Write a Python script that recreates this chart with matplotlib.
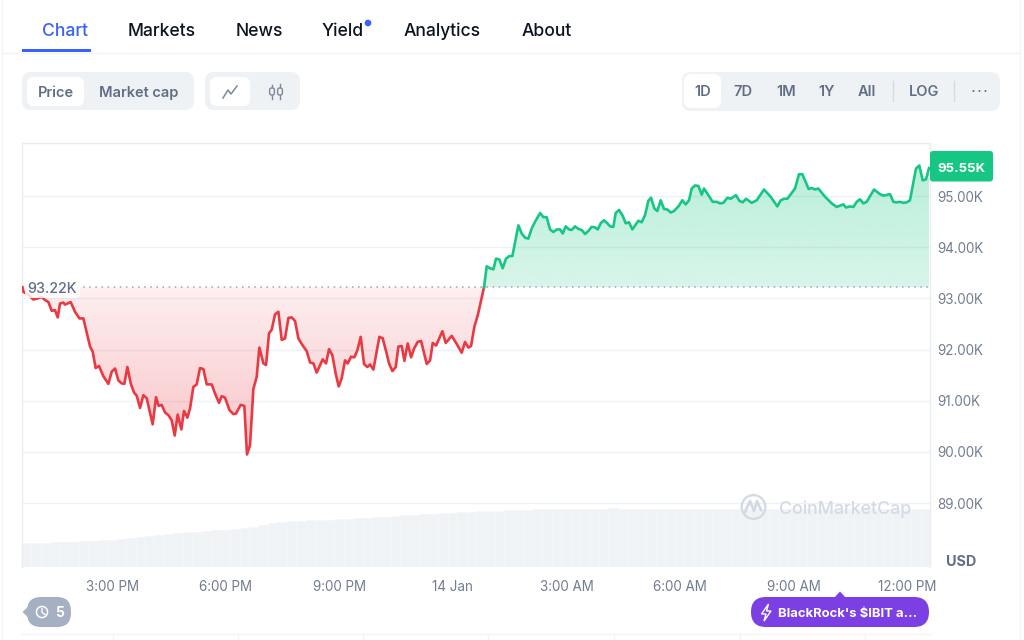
import numpy as np
import matplotlib
matplotlib.use("Agg")
import matplotlib.pyplot as plt
from matplotlib.patches import FancyBboxPatch, Circle, Polygon, Wedge, Rectangle

plt.rcParams['font.family'] = ['Inter', 'DejaVu Sans']

# Minutes since 12:00 PM on 13 Jan
red_t = [38, 39.6, 47.5, 55.4, 61.7, 68.6, 73.9, 79.2, 84.4, 89.7, 94, 97.6, 102.9, 105.6, 114.5, 121.4, 128.3, 134.6,
         140.9, 145.2, 149.4, 154.1, 159.4, 166.3, 174.2, 179.5, 184.8, 190, 195.3, 199.5, 204.3, 209.6, 214.9, 219.1,
         224.4, 229.6, 234.9, 244.4, 249.7, 253.9, 258.7, 264, 269.2, 274.5, 279.3, 284, 289.8, 294, 299.3, 303.6,
         308.8, 314.1, 319.4, 324.7, 330, 337.9, 343.2, 349.5, 353.7, 359, 365.9, 372.2, 376.4, 383.8, 389.6, 393.8,
         398.6, 403.9, 409.2, 413.4, 419.8, 424, 428.7, 433, 438.2, 443.5, 448.8, 454.1, 459.4, 464.6, 469.9, 475.2,
         480.5, 488.4, 493.7, 499, 504.2, 513.7, 519, 523.8, 529, 534.3, 539.1, 543.8, 549.1, 553.3, 558.6, 563.9,
         568.7, 573.9, 579.2, 584.5, 588.7, 594, 603.5, 608.8, 615.1, 618.8, 624.1, 629.4, 633.6, 638.9, 643.1, 648.4,
         653.7, 658.4, 664.2, 669.5, 678.5, 683.8, 688, 693.3, 703.3, 708.6, 718.1, 726, 733.9, 739.2, 744.5, 748.7,
         754, 759.3, 769.3]
red_v = [93.22, 93.13, 93.07, 92.98, 93.0, 93.03, 92.97, 92.93, 92.76, 92.77, 92.63, 92.90, 92.92, 92.88, 92.93, 92.74,
         92.61, 92.61, 92.28, 92.06, 91.96, 91.64, 91.68, 91.48, 91.33, 91.57, 91.63, 91.40, 91.34, 91.33, 91.66, 91.34,
         91.16, 91.10, 90.86, 91.11, 91.05, 90.54, 91.07, 90.90, 90.92, 90.77, 90.72, 90.62, 90.32, 90.73, 90.44, 90.80,
         90.67, 90.85, 91.27, 91.32, 91.64, 91.62, 91.32, 91.32, 91.14, 90.96, 91.09, 91.06, 90.82, 90.74, 90.75, 90.92,
         90.90, 89.95, 90.13, 91.23, 91.47, 92.04, 91.73, 91.70, 92.32, 92.39, 92.69, 92.74, 92.19, 92.22, 92.62, 92.63,
         92.56, 92.22, 92.11, 91.97, 91.75, 91.73, 91.55, 91.81, 91.73, 92.01, 91.89, 91.53, 91.28, 91.44, 91.79, 91.73,
         91.86, 91.85, 91.99, 92.25, 91.72, 91.66, 91.71, 91.61, 92.25, 92.22, 91.92, 91.73, 91.58, 91.66, 92.06, 92.07,
         91.78, 92.12, 91.85, 92.02, 92.15, 92.17, 91.72, 91.79, 92.13, 92.08, 92.36, 92.13, 92.27, 92.11, 91.94, 92.15,
         92.04, 92.07, 92.45, 92.67, 93.22]
green_t = [769.3, 773.5, 778.8, 784.1, 788.3, 793.6, 798.8, 804.1, 809.4, 814.2, 823.7, 829, 834.2, 839.5, 844.8, 850.1,
           858, 863.3, 868.5, 873.8, 879.1, 884.4, 889.7, 893.9, 898.6, 903.9, 908.1, 913.4, 918.7, 924, 929.3, 934.5,
           939.8, 945.1, 949.3, 954.6, 959.4, 964.6, 968.9, 974.1, 977.8, 983.1, 988.4, 993.7, 999, 1004.2, 1013.7, 1019,
           1024.3, 1029.6, 1033.8, 1039.1, 1043.8, 1049.1, 1054.4, 1059.7, 1065, 1070.2, 1077.1, 1083.4, 1088.7, 1094,
           1098.2, 1103.5, 1108.8, 1114.1, 1117.7, 1124.6, 1131.5, 1137.8, 1143.1, 1148.4, 1154.7, 1160, 1168.4, 1173.7,
           1179, 1184.3, 1193.2, 1201.2, 1212.8, 1223.3, 1233.9, 1239.2, 1244.5, 1249.7, 1261.9, 1268.2, 1273.5, 1283.5,
           1288.3, 1293.6, 1298.8, 1309.4, 1320, 1327.9, 1338.4, 1342.7, 1349, 1354.3, 1359.6, 1364.8, 1370.1, 1375.4,
           1387, 1396.5, 1401.8, 1412.4, 1417.6, 1422.9, 1428.2, 1433.5, 1438.8, 1444, 1453.5, 1458.8, 1464.1, 1469.4,
           1474.1]
green_v = [93.22, 93.63, 93.59, 93.57, 93.78, 93.76, 93.59, 93.78, 93.83, 93.83, 94.43, 94.27, 94.19, 94.17, 94.37, 94.50,
           94.67, 94.59, 94.59, 94.35, 94.30, 94.35, 94.35, 94.27, 94.41, 94.35, 94.34, 94.41, 94.36, 94.34, 94.26, 94.32,
           94.40, 94.39, 94.35, 94.48, 94.53, 94.47, 94.41, 94.40, 94.67, 94.73, 94.63, 94.47, 94.49, 94.35, 94.52, 94.49,
           94.63, 94.91, 94.97, 94.76, 94.71, 94.92, 94.75, 94.74, 94.68, 94.71, 94.80, 94.92, 94.84, 94.92,
           95.15, 95.21, 95.20, 95.03, 95.15, 95.02, 94.89, 94.89, 94.86, 94.87, 94.97, 94.95, 95.02, 94.91,
           94.88, 94.95, 94.87, 94.92, 95.13, 94.99, 94.80, 94.92, 94.95, 94.95, 95.15, 95.43, 95.43, 95.14,
           95.16, 95.13, 95.15, 94.99, 94.86, 94.79, 94.84, 94.78, 94.80, 94.79, 94.89, 94.94, 94.86, 94.89,
           95.13, 95.04, 95.01, 95.04, 94.89, 94.88, 94.89, 94.87, 94.88, 94.92, 95.54, 95.60, 95.31, 95.33,
           95.55]
volume = [24, 24.5, 24.5, 25, 25, 25.5, 26, 26.5, 27, 27.5, 28, 29, 30, 31, 32, 33.5, 34, 35, 35.5, 36, 37, 37.5, 38.5, 39,
          40, 42, 44.5, 45.5, 46, 46.5, 47, 47, 47.5, 48, 48.5, 49, 49.5, 50, 50.5, 51, 52, 52.5, 53, 53.5, 54, 54.5, 55,
          55.5, 56, 56, 56.5, 57, 57.5, 57.5, 58, 58, 58, 58, 58, 58.5, 58.5, 58.5, 59, 58.5, 58.5, 58, 58, 58, 58, 58.5,
          58.5, 58.5, 58, 58, 58, 58, 58, 58, 58, 58, 58, 58, 58, 58, 58, 58, 58, 58, 58, 58, 58, 58, 58, 58, 58, 58]
baseline = 93.22
last_price = "95.55K"
y_ticks = [95, 94, 93, 92, 91, 90, 89]
y_labels = ["95.00K", "94.00K", "93.00K", "92.00K", "91.00K", "90.00K", "89.00K"]
x_ticks = [180, 360, 540, 720, 900, 1080, 1260, 1440]
x_labels = ["3:00 PM", "6:00 PM", "9:00 PM", "14 Jan", "3:00 AM", "6:00 AM", "9:00 AM", "12:00 PM"]
tabs = ["Chart", "Markets", "News", "Yield", "Analytics", "About"]
ranges = ["1D", "7D", "1M", "1Y", "All", "LOG"]

RED, GREEN = "#ea3943", "#16c784"
GRID, SLATE, PILL = "#eff2f5", "#616e85", "#eff2f5"
AXIS_TEXT = "#717d92"
T0, T1 = 37.4, 1475.7
W, H = 1024, 640

fig = plt.figure(figsize=(10.24, 6.4), dpi=100, facecolor="white")
pos = [22 / W, (H - 567) / H, 908 / W, 424 / H]

# Volume underlay
axv = fig.add_axes(pos, zorder=1)
axv.axis("off")
slot = (T1 - T0) / len(volume)
axv.bar([T0 + slot * (i + .5) for i in range(len(volume))], volume, width=slot, color="#f0f3f6", ec="#f4f6f8", lw=.4)
axv.set_xlim(T0, T1)
axv.set_ylim(0, 424)

# Price axes
ax = fig.add_axes(pos, zorder=2)
ax.patch.set_visible(False)
for side in ("top", "left", "right"):
    ax.spines[side].set_color("#e9edf1")
    ax.spines[side].set_linewidth(1.0)
ax.spines["bottom"].set_visible(False)
ax.set_yticks(y_ticks, y_labels)
ax.yaxis.tick_right()
ax.set_xticks(x_ticks, x_labels)
ax.tick_params(axis="both", length=0, labelsize=9.7, labelcolor=AXIS_TEXT)
ax.tick_params(axis="y", pad=5)
ax.tick_params(axis="x", pad=9.5)
ax.grid(axis="y", color=GRID, linewidth=1)
ax.set_axisbelow(True)


def gradient(t, v, rgb, a_top, a_bot, y_top, y_bot):
    poly = ax.fill_between(t, v, baseline, color="none", linewidth=0)
    n = 128
    img = np.zeros((n, 2, 4))
    img[..., :3] = matplotlib.colors.to_rgb(rgb)
    img[..., 3] = np.linspace(a_top, a_bot, n)[:, None]
    im = ax.imshow(img, extent=(T0, T1, y_bot, y_top), aspect="auto", origin="upper", zorder=1.5,
                   interpolation="bilinear")
    im.set_clip_path(poly.get_paths()[0], transform=ax.transData)


gradient(red_t, red_v, RED, .08, .30, baseline, 89.95)
gradient(green_t, green_v, GREEN, .30, .17, 95.6, baseline)
ax.plot([T0, T1], [baseline, baseline], color="#9aa5b8", lw=1.1, ls=(0, (1, 3)), zorder=2)
ax.plot(red_t, red_v, color=RED, lw=1.9, solid_joinstyle="round", zorder=3)
ax.plot(green_t, green_v, color=GREEN, lw=1.9, solid_joinstyle="round", zorder=3)
ax.set_xlim(T0, T1)
ax.set_ylim(87.75, 96.04)

# Page chrome in pixel coordinates
ui = fig.add_axes([0, 0, 1, 1], zorder=3)
ui.set_xlim(0, W)
ui.set_ylim(H, 0)
ui.axis("off")


def pill(x0, y0, x1, y1, r, color, **kw):
    ui.add_patch(FancyBboxPatch((x0, y0), x1 - x0, y1 - y0, boxstyle=f"round,pad=0,rounding_size={r}",
                                fc=color, ec="none", **kw))


def label(x, y, s, size=10.5, color=SLATE, weight=500, ha="center", **kw):
    # y is the middle of the capitals, so descenders do not shift the text
    ui.text(x, y + size * 100 / 72 * .364, s, fontsize=size, color=color, fontweight=weight,
            ha=ha, va="baseline", **kw)


ui.plot([2, 2], [0, H], color="#f4f5f7", lw=1)
ui.plot([1020, 1020], [0, H], color="#f4f5f7", lw=1)
ui.plot([2, 1020], [52.5, 52.5], color="#f1f3f6", lw=1)
for x, s, c in zip([65, 162, 259, 343, 442, 547], tabs, ["#3861fb"] + ["#0d1421"] * 5):
    label(x, 30, s, size=12.6, color=c)
ui.add_patch(Rectangle((22, 49), 69, 2.5, fc="#3861fb", ec="none"))
ui.add_patch(Circle((368, 23), 3.3, fc="#3861fb", ec="none"))

pill(22, 72, 194, 110, 9, PILL)
pill(27, 77, 84, 106, 7, "white")
label(55.5, 91.5, "Price", weight=600)
label(139, 91.5, "Market cap", weight=600)
pill(205, 72, 300, 110, 9, PILL)
pill(210, 77, 250, 106, 7, "white")
ui.plot([223, 228, 231, 237], [98, 90, 94, 86], color="#7d889b", lw=1.1)
for x, a, b, c, d in [(272, 85, 88, 95, 99), (280, 84, 88, 95, 99)]:
    ui.plot([x, x], [a, d], color="#7d889b", lw=1)
    ui.add_patch(FancyBboxPatch((x - 2.4, b), 4.8, c - b, boxstyle="round,pad=0,rounding_size=2",
                                fc=PILL, ec="#7d889b", lw=1, zorder=6))

pill(682, 72, 1000, 111, 9, PILL)
pill(684, 74, 721, 108, 7, "white")
for x, s in zip([703, 743, 786, 827, 867, 924], ranges):
    label(x, 91, s, size=10.5, weight=600)
for x in (893, 954):
    ui.plot([x, x], [81, 101], color="#d5dbe4", lw=1)
for x in (973.5, 979.5, 985.5):
    ui.add_patch(Circle((x, 91), 1, fc="#616e85", ec="none"))

pill(25, 279, 80, 298, 5, "white", alpha=.82)
label(52.5, 288, "93.22K", size=10.3, weight=500)

pill(930, 151, 993, 181.5, 3, GREEN)
label(961.5, 167, last_price, size=9.5, color="white", weight=700)
label(961, 560.5, "USD", size=10.3, color="#616e85", weight=700)

# Watermark
ui.add_patch(Wedge((753.5, 507), 13, 0, 360, width=2.3, fc="#d3dae6", ec="none"))
ui.plot([745, 750, 754, 757, 761], [512, 501, 511, 501, 510], color="#d3dae6", lw=2)
label(845, 508, "CoinMarketCap", size=12.8, color="#d3dae6", weight=500)

# Event markers
ui.add_patch(Polygon([[22.5, 612], [31, 604], [31, 620]], fc="#a6b0c3", ec="none"))
pill(27, 597, 71, 627, 14, "#a6b0c3")
ui.add_patch(Wedge((42, 612), 6.3, 0, 360, width=1.5, fc="white", ec="none"))
ui.plot([42, 42, 45], [608.5, 612.5, 614.5], color="white", lw=1)
label(59.5, 611.5, "5", size=10, color="white", weight=700)

ui.add_patch(Polygon([[834, 598], [840, 591.5], [846, 598]], fc="#7b3fe4", ec="none"))
pill(751, 597, 929, 627, 15, "#7b3fe4")
ui.add_patch(Polygon([[768.5, 604], [761.5, 614], [766, 614], [764, 621], [771, 611], [766.5, 611]],
                     fc="none", ec="white", lw=1))
label(778, 612, "BlackRock's $IBIT a...", size=9.4, color="white", weight=700, ha="left")

# Bottom table stub
ui.plot([22, 930], [633.5, 633.5], color="#f1f3f6", lw=1)
for x in (113, 238, 363, 488, 614, 740, 865):
    ui.plot([x, x], [633.5, H], color="#f1f3f6", lw=1)

fig.savefig("out.png", dpi=100)
